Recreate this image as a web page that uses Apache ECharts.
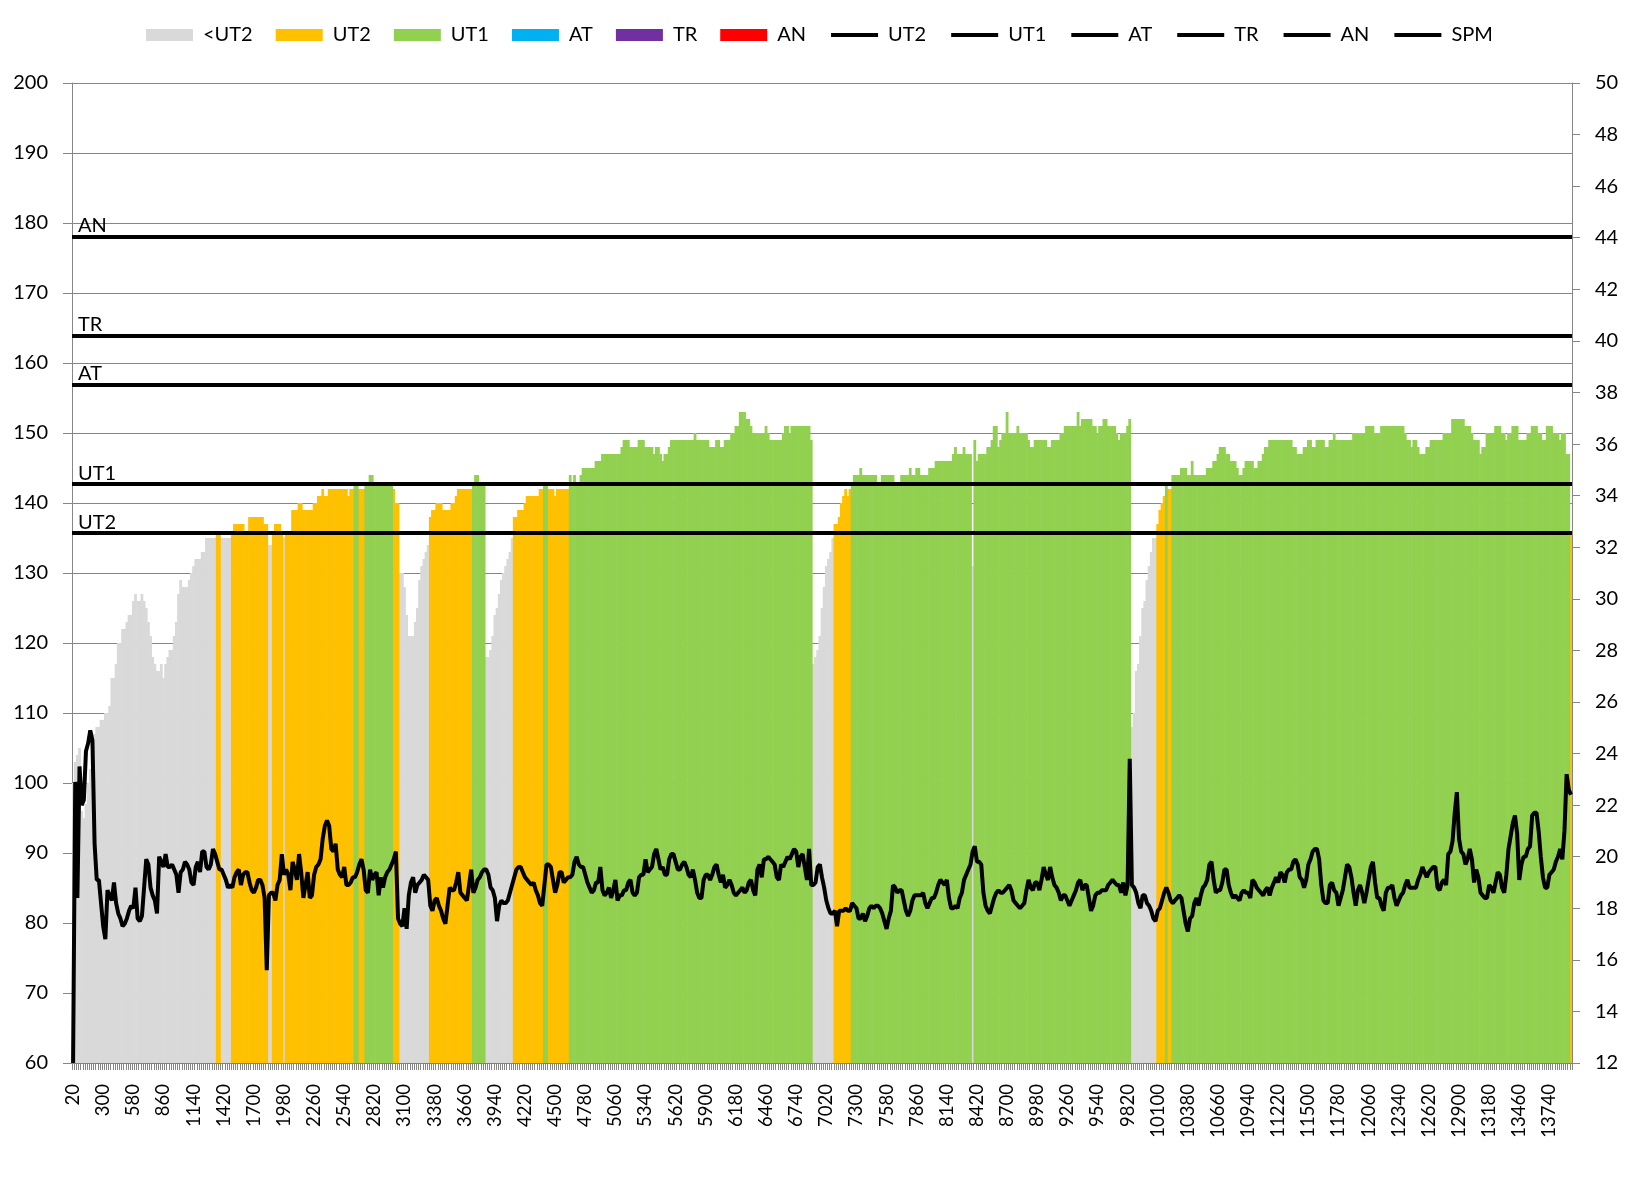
<!DOCTYPE html>
<html><head><meta charset="utf-8">
<script src="https://cdn.jsdelivr.net/npm/echarts/dist/echarts.min.js"></script>
<style>html,body{margin:0;padding:0;background:#fff}#c{width:1632px;height:1182px}</style>
</head><body><div id="c"></div>
<script>
// distance axis: first sample and spacing (metres)
const DIST_START = 20, DIST_STEP = 20;

// heart rate per sample (left axis)
const heartRate = [
100,103,104,105,96,95,97,100,102,106,
107,108,108,109,109,110,110,111,115,115,
117,120,120,122,122,123,124,124,126,127,
126,126,127,126,125,123,121,118,117,116,
116,117,115,117,118,119,119,121,123,127,
129,128,128,128,129,130,131,132,132,132,
133,133,135,135,135,135,135,136,136,135,
135,135,135,135,136,137,137,137,137,137,
136,136,138,138,138,138,138,138,138,137,
137,134,134,136,137,137,137,136,135,136,
136,136,139,139,139,140,140,139,139,139,
139,139,140,140,141,141,142,141,141,142,
142,142,142,142,142,142,142,142,141,142,
142,143,143,142,142,142,143,143,144,144,
143,143,143,143,143,143,143,143,143,142,
140,140,130,130,128,124,121,121,121,123,
125,129,131,132,133,134,138,139,139,140,
140,140,139,139,139,139,140,140,141,142,
142,142,142,142,142,142,143,144,144,143,
143,143,118,118,119,121,124,125,127,129,
130,131,132,133,135,138,138,139,139,139,
140,141,141,141,141,141,141,142,142,143,
143,142,142,142,141,142,142,142,142,142,
142,144,143,144,143,143,144,145,145,145,
145,145,145,146,146,146,147,147,147,147,
147,147,147,147,147,148,149,149,149,148,
148,148,148,149,149,149,148,148,148,148,
147,148,148,147,146,147,147,148,149,149,
149,149,149,149,149,149,149,149,149,150,
149,149,149,149,149,149,148,148,148,149,
149,148,148,149,149,149,150,150,151,151,
153,153,153,152,152,151,150,150,150,150,
150,150,151,150,149,149,149,149,149,149,
150,151,151,150,151,151,151,151,151,151,
151,151,151,149,117,118,119,121,125,128,
131,132,133,135,137,137,138,140,141,142,
141,142,143,144,144,144,145,144,144,144,
144,144,144,144,143,143,144,144,144,144,
144,144,143,143,143,144,144,144,144,145,
144,144,145,145,144,144,144,144,145,145,
145,146,146,146,146,146,146,146,146,147,
148,147,147,147,148,147,147,147,131,149,
146,147,147,147,147,148,148,149,151,151,
148,149,150,150,153,150,150,150,150,151,
150,150,150,150,149,148,148,149,149,149,
149,149,149,148,148,149,149,149,149,150,
150,151,151,151,151,151,151,153,151,152,
152,152,152,152,151,151,150,151,151,152,
152,151,151,151,151,150,149,150,150,150,
151,152,108,110,116,117,121,125,126,129,
131,133,135,135,137,139,140,141,143,142,
142,144,144,144,144,145,145,145,144,144,
146,144,144,144,144,144,144,145,145,145,
146,146,147,148,148,148,147,147,146,146,
146,145,144,144,145,146,146,146,146,145,
145,146,146,147,148,148,149,149,149,149,
149,149,149,149,149,149,149,148,148,147,
147,147,148,148,149,149,148,148,149,149,
149,149,148,148,149,149,150,149,149,149,
149,149,149,149,149,150,150,150,150,150,
150,151,151,151,151,150,150,150,151,151,
151,151,151,151,151,151,151,151,151,150,
149,149,148,149,149,148,147,147,147,148,
148,149,149,149,149,149,149,150,150,150,
150,152,152,152,152,152,152,151,151,151,
150,149,149,149,147,148,148,150,150,150,
150,151,151,151,150,150,149,150,150,151,
151,151,149,149,149,149,150,150,151,151,
151,150,150,149,149,151,151,151,150,150,
150,149,150,150,147,147,136
];

// strokes per minute per sample (right axis)
const strokeRate = [
12,22.9,18.4,23.5,22,22.2,24.1,24.4,24.9,24.5,
20.5,19.1,19.1,18.2,17.3,16.8,18.7,18.5,18.3,19,
18.2,17.8,17.6,17.3,17.4,17.6,17.9,18.1,18,18.8,
17.6,17.5,17.7,18.8,19.9,19.7,18.8,18.5,18.3,17.8,
20,19.8,19.6,20.1,19.6,19.6,19.7,19.5,19.3,18.6,
19.4,19.5,19.8,19.7,19.5,19,18.9,19.6,19.8,19.4,
20.2,20.2,19.6,19.5,19.7,20.3,20.1,19.8,19.5,19.5,
19.3,19.1,18.8,18.9,18.8,19.2,19.4,19.5,18.9,19.3,
19.4,19.4,19,18.7,18.6,18.8,19.1,19.1,18.9,18.4,
15.6,18.5,18.6,18.6,18.3,18.9,19.1,20.1,19.3,19.5,
19.3,18.7,19.8,19.5,19.1,20.1,19.4,18.4,18.9,19.4,
18.4,18.5,19.3,19.6,19.7,19.9,20.7,21.2,21.4,21.2,
20.3,20.2,20.5,19.5,19.3,19.2,19.6,18.9,18.9,19,
19.2,19.2,19.4,19.7,19.9,19.5,18.7,18.6,19.5,19.1,
19.3,19.4,18.5,19.2,18.8,19.2,19.4,19.5,19.7,19.9,
20.2,17.6,17.4,17.3,18,17.2,18.5,19,19.2,18.6,
18.9,19,19.1,19.3,19.2,19.1,18.1,17.9,18.3,18.4,
18.1,17.9,17.6,17.4,18.1,18.8,18.7,18.7,19,19.4,
18.6,18.5,18.4,18.3,18.9,19.5,18.6,18.8,19.1,19.2,
19.4,19.5,19.5,19.3,18.8,18.7,18.4,17.5,18.1,18.3,
18.2,18.2,18.3,18.6,18.9,19.2,19.5,19.6,19.6,19.4,
19.2,19.1,19,18.9,19,18.7,18.5,18.2,18.1,18.9,
19.7,19.7,19.6,19.1,18.6,18.9,19.4,19.4,19,19.1,
19.2,19.2,19.3,19.8,20,19.7,19.6,19.6,19.3,19,
18.8,18.6,18.7,19,19,19.6,18.7,18.5,18.6,18.8,
18.4,18.7,19.1,18.3,18.5,18.5,18.7,18.7,19,19.1,
18.6,18.5,18.6,19.2,19.3,19.3,19.9,19.4,19.5,19.6,
20.1,20.3,19.9,19.5,19.6,19.3,19.3,19.9,20.1,20.1,
19.8,19.5,19.5,19.7,19.8,19.6,19.3,19.2,19.5,19.1,
18.6,18.4,18.4,19.1,19.3,19.3,19.1,19.3,19.6,19.7,
19.3,19,19.3,18.8,18.9,19.1,18.9,18.6,18.5,18.6,
18.7,18.8,18.6,18.7,19,19.1,18.7,18.5,19.5,19.7,
19.2,19.9,19.9,20,19.9,19.8,19.7,19.2,19.1,19.7,
19.6,19.8,20,19.9,20.1,20.3,20.2,19.6,20,20.1,
19.6,19.1,20.3,18.9,18.9,19,19.6,19.7,19.2,18.8,
18.3,18,17.8,17.8,17.9,17.3,17.9,17.9,17.9,18,
17.9,17.9,18.2,18.1,18,17.6,17.6,17.8,17.5,17.7,
18,18.1,18,18.1,18.1,18,17.8,17.5,17.2,17.6,
17.9,18.9,18.8,18.6,18.7,18.7,18.3,17.9,17.7,17.9,
18.3,18.5,18.5,18.5,18.5,18.6,18.2,18,18.2,18.4,
18.4,18.6,18.9,19.1,19,18.9,19.1,18.4,18,18,
18.1,18,18.4,18.6,19.1,19.3,19.5,19.7,20.2,20.4,
19.8,19.8,19.7,18.6,18.1,17.9,17.8,18.1,18.4,18.6,
18.7,18.6,18.6,18.7,18.8,18.9,18.7,18.3,18.2,18.1,
18,18.1,18.2,18.7,19.1,18.8,18.7,19,19,18.7,
19.1,19.6,19.3,19.1,19.6,19.2,18.9,18.8,18.6,18.3,
18.5,18.5,18.3,18.1,18.3,18.5,18.7,19,19.1,18.7,
18.9,18.9,18.4,17.9,18.1,18.5,18.6,18.6,18.7,18.7,
18.7,18.9,19,19.1,19,18.9,18.9,18.6,19,18.5,
18.9,23.8,18.9,18.8,18.6,18.2,18,18.5,18.5,18.2,
18.1,17.9,17.6,17.5,17.9,18,18.3,18.6,18.8,18.6,
18.3,18.2,18.3,18.4,18.5,18.4,17.9,17.4,17.1,17.6,
17.7,18.2,18.4,18.1,18.5,18.8,18.9,19.1,19.7,19.8,
19.1,18.6,18.7,18.7,19,19.5,19.5,18.9,18.6,18.4,
18.5,18.4,18.3,18.6,18.7,18.6,18.6,18.4,19.1,19,
18.8,18.7,18.6,18.5,18.7,18.8,18.5,18.8,19,19.2,
19,19.4,19.3,19,19.4,19.5,19.5,19.8,19.9,19.7,
19.2,19.1,18.8,19.1,19.7,19.9,20.2,20.3,20.3,19.9,
18.9,18.3,18.2,18.2,18.9,19,18.7,18.6,18.1,18.4,
18.7,19.2,19.7,19.6,19.2,18.6,18.1,18.7,18.9,18.6,
18.2,18.6,19.1,19.6,19.8,19,18.4,18.4,18.1,17.9,
18.6,18.8,18.8,18.9,18.4,18.1,18.3,18.5,18.6,18.9,
19.1,18.8,18.8,18.8,18.8,19.1,19.3,19.6,19.4,19.2,
19.4,19.5,19.6,19.6,18.8,18.7,19,19.1,18.9,20.1,
20.2,20.6,21.7,22.5,20.7,20.2,20.1,19.7,19.9,20.3,
19.9,19,19.5,19.2,18.6,18.5,18.4,18.4,18.9,18.8,
18.6,19,19.4,19.3,18.8,18.6,19.3,20.3,20.8,21.3,
21.6,20.9,19.1,19.7,20,20,20.3,20.4,21.6,21.7,
21.7,21,20,19.2,18.8,18.8,19.3,19.4,19.5,19.8,
20,20.3,19.9,21,23.2,22.6,22.4
];

// heart-rate zones (bars)
const zoneNames = ['<UT2', 'UT2', 'UT1', 'AT', 'TR', 'AN'];
const zoneColors = ['#D9D9D9', '#FFC000', '#92D050', '#00B0F0', '#7030A0', '#FF0000'];
// zone threshold lines (lower bound of each zone)
const thresholdNames = ['UT2', 'UT1', 'AT', 'TR', 'AN'];
const thresholdHR = [135.7, 142.7, 156.9, 163.9, 178];
// axes
const hrAxis = { min: 60, max: 200, interval: 10 };
const spmAxis = { min: 12, max: 50, interval: 2 };

const categories = heartRate.map((_, i) => String(DIST_START + DIST_STEP * i));
function zoneOf(v) {
  let z = 0;
  for (let k = 0; k < thresholdHR.length; k++) if (v >= thresholdHR[k]) z = k + 1;
  return z;
}

const FONT = 'Lato, "Open Sans", sans-serif';
const AXIS_GREY = '#868686';
const LINE_SUFFIX = ' line';

const series = [];
zoneNames.forEach((name, k) => {
  series.push({
    name: name, type: 'bar', xAxisIndex: 0, yAxisIndex: 0,
    barGap: '-100%', barWidth: 2.8,
    itemStyle: { color: zoneColors[k] },
    data: heartRate.map(v => zoneOf(v) === k ? v : '-'),
    animation: false, silent: true, z: 2
  });
});
thresholdNames.forEach((name, k) => {
  series.push({
    name: name + LINE_SUFFIX, type: 'line', yAxisIndex: 0, data: [],
    symbol: 'none', color: '#000',
    lineStyle: { color: '#000', width: 4 },
    markLine: {
      silent: true, symbol: ['none', 'none'], animation: false,
      lineStyle: { color: '#000', width: 4, type: 'solid' },
      label: { show: true, position: 'insideStartTop', formatter: name,
               color: '#000', fontSize: 20, fontFamily: FONT, distance: [6, 1] },
      emphasis: { disabled: true },
      data: [{ yAxis: thresholdHR[k] }]
    },
    z: 4, animation: false
  });
});
series.push({
  name: 'SPM', type: 'line', yAxisIndex: 1, data: strokeRate,
  symbol: 'none', color: '#000', lineStyle: { color: '#000', width: 4 },
  z: 5, animation: false, silent: true
});

const hiddenMarker = { color: 'rgba(0,0,0,0)', borderColor: 'rgba(0,0,0,0)', borderWidth: 0 };
const legendData = zoneNames.map(n => ({ name: n, icon: 'rect' }))
  .concat(thresholdNames.map(n => ({ name: n + LINE_SUFFIX, itemStyle: hiddenMarker, lineStyle: { width: 4, color: '#000' } })))
  .concat([{ name: 'SPM', itemStyle: hiddenMarker, lineStyle: { width: 4, color: '#000' } }]);

const chart = echarts.init(document.getElementById('c'), null, { renderer: 'canvas' });
chart.setOption({
  backgroundColor: '#fff',
  animation: false,
  textStyle: { fontFamily: FONT },
  legend: {
    data: legendData, left: 146, top: 25, padding: 0, itemGap: 23,
    itemWidth: 47, itemHeight: 12,
    formatter: n => n.replace(LINE_SUFFIX, ''),
    textStyle: { fontSize: 20, color: '#000', fontFamily: FONT, padding: [0, 0, 0, 5] },
    selectedMode: false
  },
  grid: { left: 72, right: 60, top: 83, bottom: 119, containLabel: false, outerBoundsMode: 'none' },
  xAxis: {
    type: 'category', data: categories, boundaryGap: true,
    axisLine: { show: true, lineStyle: { color: '#E05050', width: 1 } },
    axisTick: { show: true, interval: 0, length: 7, lineStyle: { color: AXIS_GREY } },
    axisLabel: { interval: 13, rotate: 90, fontSize: 18.5, fontFamily: FONT, color: '#000', margin: 21 },
    splitLine: { show: false }
  },
  yAxis: [{
    type: 'value', position: 'left', min: hrAxis.min, max: hrAxis.max, interval: hrAxis.interval,
    axisLine: { show: true, lineStyle: { color: AXIS_GREY } },
    axisTick: { show: true, length: 9, lineStyle: { color: AXIS_GREY } },
    axisLabel: { fontSize: 20, fontFamily: FONT, color: '#000', margin: 24 },
    splitLine: { show: true, lineStyle: { color: AXIS_GREY, width: 1 } }
  }, {
    type: 'value', position: 'right', min: spmAxis.min, max: spmAxis.max, interval: spmAxis.interval,
    axisLine: { show: true, lineStyle: { color: AXIS_GREY } },
    axisTick: { show: true, length: 8, lineStyle: { color: AXIS_GREY } },
    axisLabel: { fontSize: 20, fontFamily: FONT, color: '#000', margin: 23 },
    splitLine: { show: false }
  }],
  series: series
});
</script>
</body></html>
